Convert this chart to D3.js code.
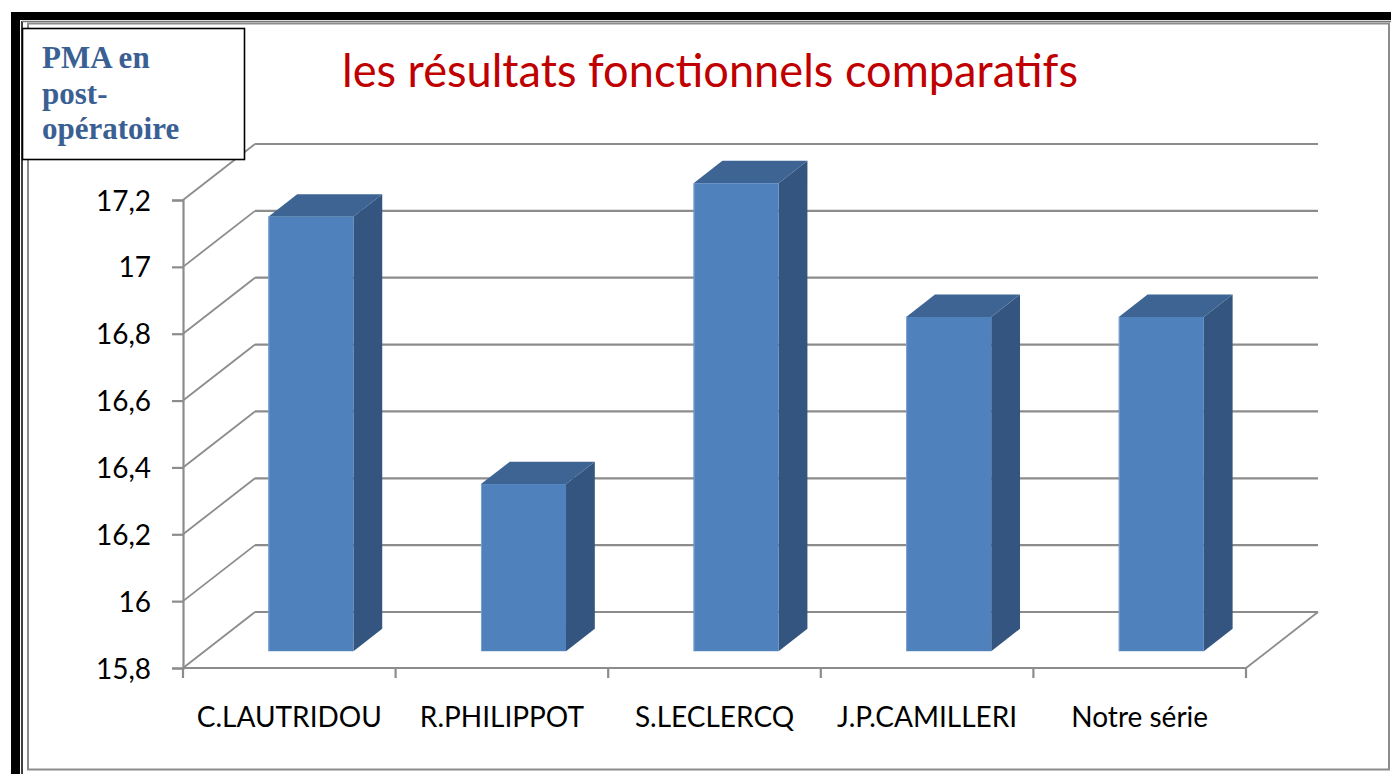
<!DOCTYPE html>
<html>
<head>
<meta charset="utf-8">
<script src="https://cdn.jsdelivr.net/npm/d3@7"></script>
<style>
  html, body { margin: 0; padding: 0; background: #fff; }
  svg { display: block; }
</style>
</head>
<body>
<svg id="chart" width="1391" height="774"></svg>
<script>
// PMA post-opératoire par série publiée
const categories = ["C.LAUTRIDOU", "R.PHILIPPOT", "S.LECLERCQ", "J.P.CAMILLERI", "Notre série"];
const values = [17.1, 16.3, 17.2, 16.8, 16.8];
const yTicks = [15.8, 16, 16.2, 16.4, 16.6, 16.8, 17, 17.2];
const titleText = "les résultats fonctionnels comparatifs";
const axisTitleLines = ["PMA en", "post-", "opératoire"];

const svg = d3.select("#chart");
const W = 1391, H = 774;

// plot geometry (front plane) and depth vector of the 3D box
const plot = { left: 183, right: 1246, top: 200, bottom: 668 };
const depth = { dx: 72, dy: -56 };
const barDepth = [0.3, 0.7];   // bars sit between these fractions of the depth

const y = d3.scaleLinear().domain([15.8, 17.2]).range([plot.bottom, plot.top]);
const x = d3.scaleBand().domain(categories).range([plot.left, plot.right])
  .paddingInner(0.6).paddingOuter(0.3);
const step = x.step();
const fmt = v => d3.format(".1f")(v).replace(/\.0$/, "").replace(".", ",");

const gridColor = "#8c8c8c";

// ---- outer frame ----
const frame = svg.append("g");
frame.append("rect").attr("x", 11).attr("y", 12).attr("width", W - 11).attr("height", 8).attr("fill", "#000");
frame.append("rect").attr("x", 11).attr("y", 12).attr("width", 9).attr("height", H - 12).attr("fill", "#000");
frame.append("line").attr("x1", 22).attr("x2", 22).attr("y1", 21).attr("y2", H).attr("stroke", "#000").attr("stroke-width", 1.5);
frame.append("line").attr("x1", 22).attr("x2", W).attr("y1", 21.5).attr("y2", 21.5).attr("stroke", "#777").attr("stroke-width", 1.5);
frame.append("rect").attr("x", 28).attr("y", 23.5).attr("width", 1361).attr("height", 746)
  .attr("fill", "none").attr("stroke", gridColor).attr("stroke-width", 2);

// ---- walls & gridlines ----
const grid = svg.append("g").attr("fill", "none").attr("stroke", gridColor);
// back wall horizontal gridlines
grid.selectAll("line.back").data(yTicks).join("line").attr("class", "back")
  .attr("x1", plot.left + depth.dx).attr("x2", plot.right + depth.dx)
  .attr("y1", d => y(d) + depth.dy).attr("y2", d => y(d) + depth.dy)
  .attr("stroke-width", 2.2);
// side wall diagonals
grid.selectAll("line.side").data(yTicks).join("line").attr("class", "side")
  .attr("x1", plot.left).attr("y1", d => y(d))
  .attr("x2", plot.left + depth.dx).attr("y2", d => y(d) + depth.dy)
  .attr("stroke-width", 1.8);
// floor right edge
grid.append("line")
  .attr("x1", plot.right).attr("y1", plot.bottom)
  .attr("x2", plot.right + depth.dx).attr("y2", plot.bottom + depth.dy)
  .attr("stroke-width", 1.8);

// ---- y axis ----
const yAxis = svg.append("g").attr("transform", `translate(${plot.left},0)`)
  .call(d3.axisLeft(y).tickValues(yTicks).tickFormat(fmt).tickSize(11).tickPadding(21));
yAxis.select(".domain").attr("stroke", gridColor).attr("stroke-width", 2.2);
yAxis.selectAll(".tick line").attr("stroke", gridColor).attr("stroke-width", 2.2);
yAxis.selectAll(".tick text")
  .attr("font-family", "Lato, 'Open Sans', sans-serif").attr("font-size", 28)
  .attr("fill", "#000").attr("dy", "0.36em");

// ---- x axis (front floor edge with category dividers) ----
const bounds = categories.map(c => x(c) - step * 0.3).concat([plot.right]);
const xAxisG = svg.append("g");
xAxisG.append("line").attr("x1", plot.left).attr("x2", plot.right)
  .attr("y1", plot.bottom).attr("y2", plot.bottom)
  .attr("stroke", gridColor).attr("stroke-width", 2.2);
xAxisG.selectAll("line.div").data(bounds).join("line").attr("class", "div")
  .attr("x1", d => d).attr("x2", d => d)
  .attr("y1", plot.bottom).attr("y2", plot.bottom + 10)
  .attr("stroke", gridColor).attr("stroke-width", 2.2);
xAxisG.selectAll("text").data(categories).join("text")
  .attr("x", d => x(d) + x.bandwidth() / 2)
  .attr("y", 727)
  .attr("text-anchor", "middle")
  .attr("font-family", "Lato, 'Open Sans', sans-serif").attr("font-size", 28)
  .attr("fill", "#000")
  .text(d => d);

// ---- 3D bars ----
const f0 = { dx: depth.dx * barDepth[0], dy: depth.dy * barDepth[0] };
const f1 = { dx: depth.dx * barDepth[1], dy: depth.dy * barDepth[1] };
const bars = svg.append("g");
const data = categories.map((c, i) => ({ c, v: values[i] }));
const barG = bars.selectAll("g").data(data).join("g");

barG.each(function (d) {
  const g = d3.select(this);
  const x0 = x(d.c), x1 = x(d.c) + x.bandwidth();
  const yt = y(d.v), yb = y(15.8);
  const P = (px, py, o) => [px + o.dx, py + o.dy];
  const line = d3.line();
  // right side face
  g.append("path").attr("fill", "#33557f")
    .attr("d", line([P(x1, yt, f0), P(x1, yt, f1), P(x1, yb, f1), P(x1, yb, f0)]) + "Z");
  // top face
  g.append("path").attr("fill", "#3d6492")
    .attr("d", line([P(x0, yt, f0), P(x0, yt, f1), P(x1, yt, f1), P(x1, yt, f0)]) + "Z");
  // front face
  g.append("rect").attr("fill", "#4f81bd")
    .attr("x", x0 + f0.dx).attr("y", yt + f0.dy)
    .attr("width", x1 - x0).attr("height", yb - yt);
  g.append("line").attr("stroke", "#7da2d2").attr("stroke-width", 1)
    .attr("x1", x0 + f0.dx + 0.5).attr("x2", x0 + f0.dx + 0.5)
    .attr("y1", yt + f0.dy).attr("y2", yb + f0.dy);
});

// ---- title ----
svg.append("text")
  .attr("x", 342).attr("y", 87)
  .attr("font-family", "Lato, 'Open Sans', sans-serif").attr("font-size", 46)
  .attr("fill", "#c00000")
  .attr("textLength", 736).attr("lengthAdjust", "spacingAndGlyphs")
  .text(titleText);

// ---- axis title box ----
const box = svg.append("g");
box.append("rect").attr("x", 22.5).attr("y", 28.5).attr("width", 222).attr("height", 131)
  .attr("fill", "#fff").attr("stroke", "#000").attr("stroke-width", 1.6);
box.selectAll("text").data(axisTitleLines).join("text")
  .attr("x", 42).attr("y", (d, i) => 68 + i * 35.5)
  .attr("font-family", "'Liberation Serif', 'DejaVu Serif', serif")
  .attr("font-weight", "bold").attr("font-size", 31)
  .attr("fill", "#3a6093")
  .text(d => d);
</script>
</body>
</html>
